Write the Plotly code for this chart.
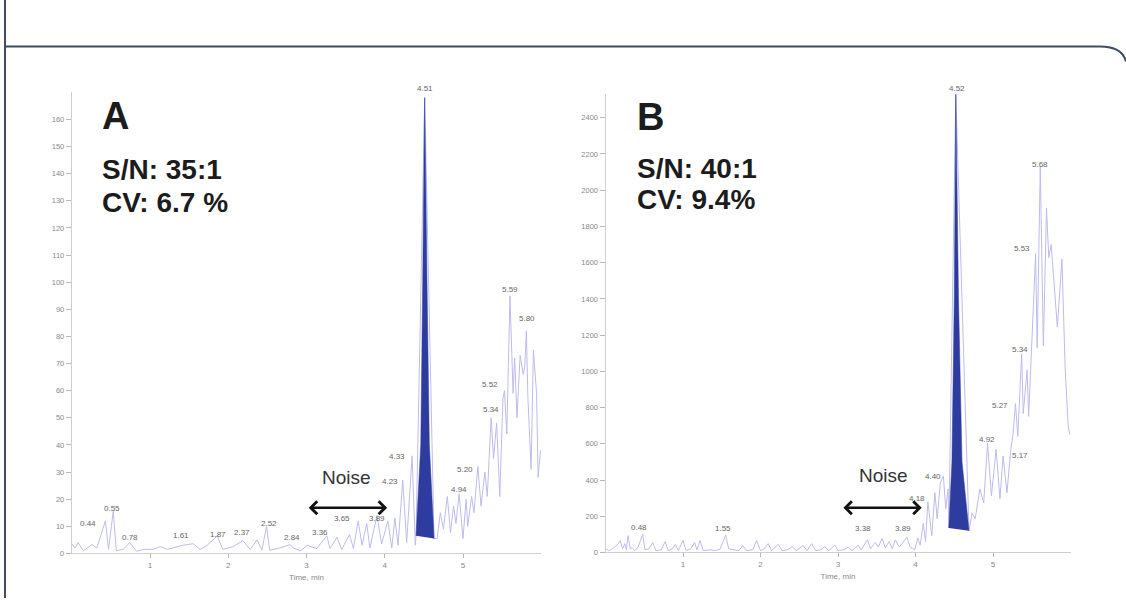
import plotly.graph_objects as go

# ---------------- data ----------------
# Panel A chromatogram (time, min ; intensity)
tA = [0.00, 0.04, 0.08, 0.15, 0.26, 0.32, 0.43, 0.47, 0.53, 0.57, 0.66, 0.74, 0.83, 0.92,
      1.04, 1.13, 1.22, 1.29, 1.42, 1.55, 1.64, 1.73, 1.86, 1.93, 2.06, 2.19, 2.28, 2.37,
      2.43, 2.49, 2.53, 2.66, 2.79, 2.83, 2.92, 3.01, 3.13, 3.26, 3.30, 3.39, 3.45, 3.55,
      3.60, 3.66, 3.71, 3.77, 3.81, 3.90, 3.96, 4.04, 4.09, 4.13, 4.17, 4.23, 4.28, 4.35,
      4.39, 4.40, 4.51, 4.63, 4.67, 4.71, 4.75, 4.80, 4.84, 4.88, 4.91, 4.95, 5.00, 5.04,
      5.06, 5.11, 5.14, 5.19, 5.23, 5.28, 5.31, 5.36, 5.39, 5.43, 5.47, 5.51, 5.53, 5.56,
      5.60, 5.64, 5.66, 5.69, 5.73, 5.77, 5.79, 5.81, 5.83, 5.87, 5.90, 5.94, 5.96, 5.99]
iA = [3.6, 2.0, 4.0, 1.0, 3.3, 2.0, 12.0, 1.5, 15.5, 1.0, 1.5, 4.0, 0.8, 1.5,
      1.5, 2.5, 1.5, 2.0, 3.0, 3.6, 1.5, 3.0, 6.5, 1.5, 2.5, 4.7, 1.5, 5.0,
      1.2, 10.0, 1.2, 2.0, 3.3, 2.0, 1.0, 3.0, 1.8, 6.5, 1.8, 6.0, 1.5, 7.0,
      1.8, 12.0, 3.0, 11.0, 2.0, 14.0, 3.5, 12.0, 2.0, 13.0, 3.0, 27.0, 4.0, 36.0,
      3.0, 6.5, 168.0, 5.5, 5.5, 15.0, 9.0, 21.0, 7.7, 17.5, 11.0, 22.0, 5.5, 20.0,
      10.0, 21.0, 15.0, 32.0, 17.5, 30.0, 21.0, 50.0, 35.0, 48.0, 21.0, 57.0, 60.0, 44.0,
      95.0, 59.0, 72.0, 50.0, 73.0, 66.0, 69.0, 82.0, 57.0, 31.0, 75.0, 59.0, 28.0, 38.0]

# Panel A integrated peak (filled)
peakA_t = [4.40, 4.46, 4.485, 4.51, 4.54, 4.57, 4.63]
peakA_i = [6.5, 40.0, 100.0, 168.0, 100.0, 40.0, 5.5]

labelsA = ["0.44", "0.55", "0.78", "1.61", "1.87", "2.37", "2.52", "2.84", "3.36", "3.65",
           "3.89", "4.23", "4.33", "4.51", "4.94", "5.20", "5.34", "5.52", "5.59", "5.80"]
labelsA_t = [0.21, 0.51, 0.74, 1.40, 1.87, 2.18, 2.52, 2.81, 3.17, 3.45,
             3.90, 4.07, 4.16, 4.51, 4.95, 5.03, 5.36, 5.34, 5.60, 5.82]
labelsA_i = [11.0, 16.4, 5.8, 6.6, 6.9, 7.7, 11.0, 5.8, 7.7, 13.0,
             13.0, 26.6, 35.8, 169.0, 23.7, 31.0, 53.0, 62.4, 97.4, 86.5]

# Panel B chromatogram
tB = [0.00, 0.05, 0.10, 0.16, 0.19, 0.22, 0.25, 0.27, 0.29, 0.32, 0.34, 0.38, 0.42, 0.48,
      0.51, 0.56, 0.61, 0.65, 0.72, 0.77, 0.81, 0.86, 0.90, 0.94, 1.00, 1.04, 1.10, 1.15,
      1.18, 1.22, 1.26, 1.35, 1.42, 1.48, 1.55, 1.59, 1.66, 1.72, 1.77, 1.82, 1.90, 1.95,
      2.00, 2.05, 2.10, 2.14, 2.23, 2.28, 2.35, 2.41, 2.46, 2.55, 2.60, 2.66, 2.71, 2.78,
      2.83, 2.88, 2.96, 3.00, 3.08, 3.13, 3.18, 3.26, 3.30, 3.38, 3.42, 3.48, 3.52, 3.57,
      3.61, 3.66, 3.70, 3.74, 3.79, 3.84, 3.89, 3.93, 3.99, 4.03, 4.06, 4.10, 4.13, 4.16,
      4.21, 4.25, 4.28, 4.32, 4.36, 4.39, 4.42, 4.43, 4.52, 4.69, 4.73, 4.77, 4.83, 4.88,
      4.93, 4.98, 5.04, 5.09, 5.13, 5.18, 5.23, 5.26, 5.29, 5.32, 5.37, 5.39, 5.44, 5.46,
      5.51, 5.55, 5.57, 5.61, 5.65, 5.69, 5.72, 5.75, 5.78, 5.83, 5.89, 5.93, 5.97, 5.99]
iB = [20, 10, 25, 45, 66, 20, 49, 15, 93, 20, 27, 10, 30, 100,
      15, 20, 55, 10, 15, 60, 10, 20, 44, 10, 66, 10, 20, 55,
      15, 66, 10, 15, 10, 20, 95, 20, 15, 10, 38, 10, 15, 66,
      10, 20, 49, 10, 44, 10, 15, 33, 10, 38, 10, 49, 10, 15,
      33, 10, 40, 10, 15, 30, 10, 40, 15, 70, 20, 55, 30, 77,
      25, 60, 20, 70, 30, 55, 85, 30, 15, 80, 40, 160, 60, 280,
      93, 330, 186, 384, 422, 241, 350, 135, 2530, 120, 219, 186, 350, 274,
      603, 312, 570, 296, 532, 329, 570, 658, 822, 641, 1096, 767, 1008, 751,
      1260, 1650, 1130, 2130, 1140, 1900, 1627, 1700, 1534, 1244, 1620, 1030, 700, 650]

peakB_t = [4.43, 4.47, 4.50, 4.52, 4.555, 4.60, 4.69]
peakB_i = [135, 500, 1400, 2530, 1400, 500, 120]

labelsB = ["0.48", "1.55", "3.38", "3.89", "4.18", "4.40", "4.52", "4.92", "5.17", "5.27",
           "5.34", "5.53", "5.68"]
labelsB_t = [0.43, 1.52, 3.32, 3.84, 4.02, 4.23, 4.53, 4.92, 5.35, 5.09, 5.35, 5.37, 5.61]
labelsB_i = [137, 131, 131, 131, 296, 422, 2525, 625, 537, 811, 1123, 1677, 2142]

xticksA = [1, 2, 3, 4, 5]
yticksA = [0, 10, 20, 30, 40, 50, 60, 70, 80, 90, 100, 110, 120, 130, 140, 150, 160]
xticksB = [1, 2, 3, 4, 5]
yticksB = [0, 200, 400, 600, 800, 1000, 1200, 1400, 1600, 1800, 2000, 2200, 2400]

panel_text = {"A": ["A", "S/N: 35:1", "CV: 6.7 %"], "B": ["B", "S/N: 40:1", "CV: 9.4%"]}
noiseA = {"x0": 3.01, "x1": 4.03, "y": 16.8, "tx": 3.17, "ty": 28}
noiseB = {"x0": 3.05, "x1": 4.08, "y": 247, "tx": 3.25, "ty": 427}

# ---------------- figure ----------------
W, H = 1126, 613
FONT = "Liberation Sans, Arial, sans-serif"
LINE = "#bcbcec"
FILL = "#2d3c9e"
TICKC = "#888888"
YMAX_A, YMAX_B = 170, 2530


def px(x):
    return x / W


def py(y):
    return 1 - y / H


fig = go.Figure()

fig.add_trace(go.Scatter(x=tA, y=iA, mode="lines", line=dict(color=LINE, width=1),
                         xaxis="x", yaxis="y", hoverinfo="skip", showlegend=False))
fig.add_trace(go.Scatter(x=peakA_t, y=peakA_i, mode="lines", fill="toself", fillcolor=FILL,
                         line=dict(color=FILL, width=0.5), xaxis="x", yaxis="y",
                         hoverinfo="skip", showlegend=False))
fig.add_trace(go.Scatter(x=tB, y=iB, mode="lines", line=dict(color=LINE, width=1),
                         xaxis="x2", yaxis="y2", hoverinfo="skip", showlegend=False))
fig.add_trace(go.Scatter(x=peakB_t, y=peakB_i, mode="lines", fill="toself", fillcolor=FILL,
                         line=dict(color=FILL, width=0.5), xaxis="x2", yaxis="y2",
                         hoverinfo="skip", showlegend=False))

ax_common = dict(showgrid=False, zeroline=False, showline=True, linecolor="#cfcfcf",
                 linewidth=1, ticks="outside", tickcolor="#b8b8b8", ticklen=5,
                 tickfont=dict(family=FONT, size=7.5, color=TICKC))
xax_extra = dict(ticklen=4, tickfont=dict(family=FONT, size=8, color=TICKC))
xtitle = dict(text="Time, min", standoff=5, font=dict(family=FONT, size=8, color=TICKC))

fig.update_layout(
    width=W, height=H, margin=dict(l=0, r=0, t=0, b=0),
    paper_bgcolor="white", plot_bgcolor="white", showlegend=False,
    xaxis=dict(domain=[px(71.75), px(541.25)], range=[0, 6], tickvals=xticksA,
               anchor="y", title=xtitle, **{**ax_common, **xax_extra}),
    yaxis=dict(domain=[py(558), py(93)], range=[0, YMAX_A], tickvals=yticksA, anchor="x",
               **ax_common),
    xaxis2=dict(domain=[px(605.5), px(1070.5)], range=[0, 6], tickvals=xticksB,
                anchor="y2", title=xtitle, **{**ax_common, **xax_extra}),
    yaxis2=dict(domain=[py(557), py(95)], range=[0, YMAX_B], tickvals=yticksB, anchor="x2",
                **ax_common),
)

ann = []
# peak labels (labels at the very top of an axis are anchored by their bottom edge)
for labs, ts, vs, xr, yr, top in ((labelsA, labelsA_t, labelsA_i, "x", "y", YMAX_A),
                                  (labelsB, labelsB_t, labelsB_i, "x2", "y2", YMAX_B)):
    for lab, t, v in zip(labs, ts, vs):
        near_top = v > 0.98 * top
        ann.append(dict(x=t, y=v, xref=xr, yref=yr, text=lab, showarrow=False,
                        font=dict(family=FONT, size=8, color="#666666"), xanchor="center",
                        yanchor="bottom" if near_top else "middle"))

# panel titles and stats
for key, xl, ys in (("A", 100, (116.5, 170.5, 204.5)), ("B", 635, (118, 170, 201))):
    t = panel_text[key]
    ann.append(dict(x=px(xl), y=py(ys[0]), xref="paper", yref="paper", text="<b>%s</b>" % t[0],
                    showarrow=False, xanchor="left", yanchor="middle",
                    font=dict(family=FONT, size=38, color="#1c1c1c")))
    for txt, yy in zip(t[1:], ys[1:]):
        ann.append(dict(x=px(xl), y=py(yy), xref="paper", yref="paper", text="<b>%s</b>" % txt,
                        showarrow=False, xanchor="left", yanchor="middle",
                        font=dict(family=FONT, size=28, color="#1c1c1c")))

# noise arrows and labels
for nz, xr, yr in ((noiseA, "x", "y"), (noiseB, "x2", "y2")):
    ann.append(dict(x=nz["x1"], y=nz["y"], ax=nz["x0"], ay=nz["y"], xref=xr, yref=yr,
                    axref=xr, ayref=yr, text="", showarrow=True, arrowside="end+start",
                    arrowhead=4, startarrowhead=4, arrowsize=1, startarrowsize=1,
                    arrowwidth=2.5, arrowcolor="#111111", standoff=0, startstandoff=0))
    ann.append(dict(x=nz["tx"], y=nz["ty"], xref=xr, yref=yr, text="Noise", showarrow=False,
                    xanchor="left", yanchor="middle",
                    font=dict(family=FONT, size=19, color="#333333")))

fig.update_layout(annotations=ann)

# frame lines
FR = "#3e4e5e"
fig.add_shape(type="line", xref="paper", yref="paper", x0=px(5), x1=px(5), y0=py(0), y1=py(603),
              line=dict(color=FR, width=2))
fig.add_shape(type="path", xref="paper", yref="paper",
              path="M %f,%f L %f,%f Q %f,%f %f,%f" % (px(5), py(47), px(1100), py(47),
                                                      px(1122), py(47), px(1126), py(62)),
              line=dict(color=FR, width=2))

fig.write_html("out.html", config={"displayModeBar": False},
               post_script="document.body.style.margin='0px';document.body.style.overflow='hidden';")
